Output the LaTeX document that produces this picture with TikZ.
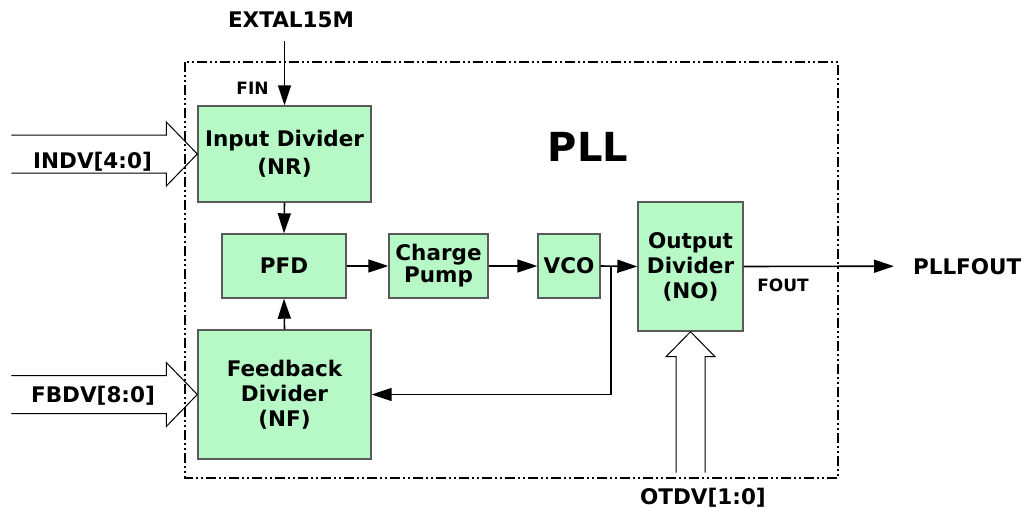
\documentclass[tikz,border=0pt]{standalone}
\usepackage{fontspec}
\setmainfont{DejaVu Sans}
\usetikzlibrary{arrows.meta}
\definecolor{blockgreen}{HTML}{B6F8C6}
\definecolor{blockedge}{HTML}{5A5A5A}
\tikzset{
    pll-block/.style = {draw=blockedge, fill=blockgreen, line width=0.7pt, rectangle, align=center, inner sep=0pt, font=\fontsize{10.75}{12.5}\selectfont\bfseries},
    pll-label/.style = {font=\fontsize{10.75}{13}\selectfont\bfseries},
    pll-pin/.style = {font=\fontsize{8.5}{10}\selectfont\bfseries},
    pll-frame/.style = {line width=1pt, dash pattern=on 5pt off 1.5pt on 1pt off 1.5pt on 1pt off 1.5pt},
    signal-arrow/.style = {line width=0.8pt, -{Triangle[length=10pt, width=6.5pt]}},
    bus-arrow/.style = {line width=0.5pt, line join=miter},
}
\begin{document}
\begin{tikzpicture}[x=0.5pt, y=-0.5pt]
\useasboundingbox (0,0) rectangle (1029,509);
\draw[pll-frame] (185,62) rectangle (838,478);
\node[font=\fontsize{20}{24}\selectfont\bfseries, anchor=base] (title) at (588,161) {PLL};

\node[pll-block, minimum width=86.5pt, minimum height=48pt] (nr) at (284.5,154) {Input Divider\\[1.5pt](NR)};
\node[pll-block, minimum width=62pt, minimum height=32pt] (pfd) at (284,266) {PFD};
\node[pll-block, minimum width=49.5pt, minimum height=32pt] (cp) at (438.5,266) {Charge\\[-1.5pt]Pump};
\node[pll-block, minimum width=31pt, minimum height=32pt] (vco) at (569,266) {VCO};
\node[pll-block, minimum width=52.5pt, minimum height=64.5pt] (no) at (690.5,266.5) {Output\\Divider\\(NO)};
\node[pll-block, minimum width=86.5pt, minimum height=64.5pt] (nf) at (284.5,394.5) {Feedback\\Divider\\(NF)};

\node[pll-label, anchor=base] (extal) at (291,27) {EXTAL15M};
\node[pll-pin, anchor=base] (fin) at (252.5,94) {FIN};
\node[pll-pin, anchor=base] (fout) at (783,291) {FOUT};
\node[pll-label, anchor=base west] (pllfout) at (906,274) {PLLFOUT};
\node[pll-label, anchor=base] (indv) at (92.5,168) {INDV[4:0]};
\node[pll-label, anchor=base] (fbdv) at (93,402) {FBDV[8:0]};
\node[pll-label, anchor=base] (otdv) at (703,504) {OTDV[1:0]};

% signal path
\coordinate (extal-in) at (284.5,41);
\coordinate (tap) at (611,266);
\draw[signal-arrow] (extal-in) -- (nr.north);
\draw[signal-arrow] (nr.south) -- (pfd.north);
\draw[signal-arrow] (nf.north) -- (pfd.south);
\draw[signal-arrow] (pfd.east) -- (cp.west);
\draw[signal-arrow] (cp.east) -- (vco.west);
\draw[signal-arrow] (vco.east) -- (no.west);
\draw[signal-arrow] (tap) |- (nf.east);
\draw[signal-arrow] (no.east) -- ([xshift=-6pt]pllfout.west);

% bus inputs
\draw[bus-arrow] (nr.west) -- ++(-31,-32) -- ++(0,13) -- ++(-155,0);
\draw[bus-arrow] (nr.west) -- ++(-31,32) -- ++(0,-13) -- ++(-155,0);
\draw[bus-arrow] (nf.west) -- ++(-31,-32) -- ++(0,13) -- ++(-155,0);
\draw[bus-arrow] (nf.west) -- ++(-31,32) -- ++(0,-13) -- ++(-155,0);
\draw[bus-arrow] (no.south) -- ++(-24.5,25) -- ++(10,0) -- ++(0,116);
\draw[bus-arrow] (no.south) -- ++(24.5,25) -- ++(-10,0) -- ++(0,116);
\end{tikzpicture}
\end{document}
